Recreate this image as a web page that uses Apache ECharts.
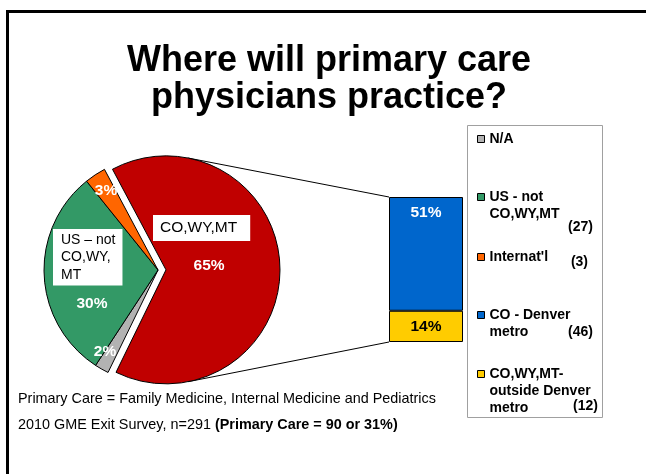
<!DOCTYPE html>
<html>
<head>
<meta charset="utf-8">
<script src="https://cdn.jsdelivr.net/npm/echarts@6/dist/echarts.min.js"></script>
<style>html,body{margin:0;padding:0;background:#fff}#c{width:646px;height:474px}</style>
</head>
<body>
<div id="c"></div>
<script>
// ---------------- data ----------------
const titleLines = ['Where will primary care', 'physicians practice?'];
const pieNames = ['CO,WY,MT', 'N/A', 'US - not CO,WY,MT', "Internat'l"];
const pieValues = [65, 2, 30, 3];
const pieLabels = ['65%', '2%', '30%', '3%'];
const pieBoxText = [['CO,WY,MT'], null, ['US \u2013 not', 'CO,WY,', 'MT'], null];
const barCategories = ['CO,WY,MT'];
const barSeriesNames = ['CO,WY,MT-outside Denver metro', 'CO - Denver metro'];
const barValues = [[14], [51]];
const barLabels = ['14%', '51%'];
const legendNames = ['N/A', 'US - not CO,WY,MT', "Internat'l", 'CO - Denver metro', 'CO,WY,MT-outside Denver metro'];
const legendLines = [['N/A'], ['US - not', 'CO,WY,MT'], ["Internat'l"], ['CO - Denver', 'metro'], ['CO,WY,MT-', 'outside Denver', 'metro']];
const legendCounts = [null, '(27)', '(3)', '(46)', '(12)'];
const footnote1 = 'Primary Care = Family Medicine, Internal Medicine and Pediatrics';
const footnote2a = '2010 GME Exit Survey, n=291 ';
const footnote2b = '(Primary Care = 90 or 31%)';

// ---------------- style / layout ----------------
const FONT = '"Liberation Sans", Arial, sans-serif';
const pieColors = ['#c00000', '#b2b2b2', '#339966', '#ff6600'];
const barColors = ['#ffcc00', '#0066cc'];
const SEL_OFFSET = 8;
const PIE_CENTER = [158, 270];
const PIE_R = 114;
// label anchor offsets relative to the pie centre
const pctLabelPos = [null, [-53, 82], [-66, 34], [-52, -79]];
const boxLabelPos = [[-5, -55], null, [-105, -41], null];
const legendFirstLineY = [139, 197, 257, 315, 374];
const LEG_LH = 17;
const countPos = [null, [593, 227], [588, 262], [593, 332], [598, 406]];

const barTotal = barValues.reduce((s, v) => s + v[0], 0);

const pieCommon = {
  type: 'pie', center: PIE_CENTER, radius: PIE_R, startAngle: 118, clockwise: true,
  avoidLabelOverlap: false, emphasis: {scale: false}, labelLine: {show: false}
};

function boxLabel(i) {
  if (!pieBoxText[i]) return {show: false};
  if (i === 0) {
    return {
      show: true, formatter: '{b|' + pieBoxText[0][0] + '}\n{p|' + pieLabels[0] + '}',
      rich: {
        b: {backgroundColor: '#fff', color: '#000', fontWeight: 'normal', fontSize: 15.5, fontFamily: FONT, padding: [5, 13, 5, 7]},
        p: {color: '#fff', fontWeight: 'bold', fontSize: 15.5, fontFamily: FONT, align: 'center', padding: [17, 0, 0, 15]}
      }
    };
  }
  return {show: true, formatter: pieBoxText[i].join('\n'), backgroundColor: '#fff', fontSize: 14, lineHeight: 17.5, padding: [2, 7, 2, 8]};
}

const option = {
  backgroundColor: '#fff',
  animation: false,
  title: [
    {
      text: titleLines.join('\n'), left: 329, top: 43, textAlign: 'center', padding: 0,
      textStyle: {fontSize: 36, fontWeight: 'bold', color: '#000', lineHeight: 37, fontFamily: FONT}
    },
    {
      text: footnote1 + '\n' + footnote2a + '{b|' + footnote2b + '}', left: 18, top: 386, padding: 0,
      textStyle: {fontSize: 14.4, fontWeight: 'normal', color: '#000', lineHeight: 26, fontFamily: FONT,
        rich: {b: {fontSize: 14.4, fontWeight: 'bold', color: '#000', lineHeight: 26, fontFamily: FONT}}}
    }
  ],
  legend: legendNames.map((n, i) => {
    const m = legendLines[i].length;
    const nLines = 2 * m - 1;
    return {
      data: [n], left: 477, top: legendFirstLineY[i] - nLines * LEG_LH / 2, orient: 'vertical', padding: 0,
      itemWidth: 7, itemHeight: 7, icon: 'rect', selectedMode: false,
      itemStyle: {borderColor: '#000', borderWidth: 1},
      textStyle: {fontWeight: 'bold', fontSize: 14, lineHeight: LEG_LH, color: '#000', fontFamily: FONT},
      formatter: () => Array(m - 1).fill('').concat(legendLines[i]).join('\n')
    };
  }),
  grid: {left: 389, top: 197, width: 74, height: 145},
  xAxis: {type: 'category', data: barCategories, show: false},
  yAxis: {type: 'value', min: 0, max: barTotal, show: false},
  series: [
    Object.assign({}, pieCommon, {
      selectedMode: 'single', selectedOffset: SEL_OFFSET,
      itemStyle: {borderColor: '#000', borderWidth: 1},
      label: {show: true, position: 'center', color: '#fff', fontWeight: 'bold', fontSize: 15.5, fontFamily: FONT,
        formatter: (p) => pieLabels[p.dataIndex]},
      labelLayout: (p) => pctLabelPos[p.dataIndex] ? ({
        x: PIE_CENTER[0] + pctLabelPos[p.dataIndex][0], y: PIE_CENTER[1] + pctLabelPos[p.dataIndex][1],
        align: 'center', verticalAlign: 'middle'
      }) : {},
      data: pieNames.map((n, i) => ({
        name: n, value: pieValues[i], selected: i === 0,
        label: pctLabelPos[i] ? {show: true} : {show: false},
        itemStyle: {color: pieColors[i], borderColor: '#000', borderWidth: 1},
        select: {itemStyle: {color: pieColors[i], borderColor: '#000', borderWidth: 1}}
      }))
    })
  ].concat(barSeriesNames.map((n, i) => ({
    type: 'bar', name: n, stack: 'total', barWidth: '100%', data: barValues[i],
    itemStyle: {color: barColors[i], borderColor: '#000', borderWidth: 1},
    label: {show: true, position: i === 1 ? 'insideTop' : 'inside', distance: 8, formatter: barLabels[i],
      color: i === 1 ? '#fff' : '#000', fontWeight: 'bold', fontSize: 15.5, fontFamily: FONT}
  }))).concat([
    // transparent overlay pie carrying the boxed category labels
    Object.assign({}, pieCommon, {
      z: 5, silent: true, legendHoverLink: false,
      itemStyle: {color: 'rgba(0,0,0,0)', borderWidth: 0},
      label: {show: true, position: 'center', color: '#000', fontWeight: 'normal', fontFamily: FONT},
      labelLayout: (p) => boxLabelPos[p.dataIndex] ? ({
        x: PIE_CENTER[0] + boxLabelPos[p.dataIndex][0], y: PIE_CENTER[1] + boxLabelPos[p.dataIndex][1],
        align: 'left', verticalAlign: 'top'
      }) : {},
      data: pieNames.map((n, i) => ({name: n, value: pieValues[i], label: boxLabel(i)}))
    })
  ])
};

const chart = echarts.init(document.getElementById('c'), null, {renderer: 'canvas'});
chart.setOption(option);

// connector lines (tangents from bar corners to the exploded slice's circle)
const model = chart.getModel();
const L = model.getSeriesByIndex(0).getData().getItemLayout(0);
const mid = (L.startAngle + L.endAngle) / 2;
const ccx = L.cx + SEL_OFFSET * Math.cos(mid), ccy = L.cy + SEL_OFFSET * Math.sin(mid), rr = L.r;
const topLay = model.getSeriesByIndex(2).getData().getItemLayout(0);
const botLay = model.getSeriesByIndex(1).getData().getItemLayout(0);
const bx = Math.min(topLay.x, topLay.x + topLay.width);
const byTop = Math.min(topLay.y, topLay.y + topLay.height);
const byBot = Math.max(botLay.y, botLay.y + botLay.height);
function tangent(px, py, sign) {
  const dx = px - ccx, dy = py - ccy, d = Math.hypot(dx, dy);
  const t = Math.atan2(dy, dx) + sign * Math.acos(rr / d);
  return [ccx + rr * Math.cos(t), ccy + rr * Math.sin(t)];
}
const t1 = tangent(bx, byTop, -1), t2 = tangent(bx, byBot, 1);

const graphics = [
  {type: 'rect', id: 'frame', silent: true, shape: {x: 7.5, y: 11.5, width: 700, height: 600}, style: {fill: 'none', stroke: '#000', lineWidth: 3}},
  {type: 'rect', id: 'legbox', silent: true, shape: {x: 467.5, y: 125.5, width: 135, height: 292}, style: {fill: 'none', stroke: '#a0a0a0', lineWidth: 1}},
  {type: 'line', id: 'conn1', silent: true, z: -1, shape: {x1: t1[0], y1: t1[1], x2: bx, y2: byTop}, style: {stroke: '#000', lineWidth: 1}},
  {type: 'line', id: 'conn2', silent: true, z: -1, shape: {x1: t2[0], y1: t2[1], x2: bx, y2: byBot}, style: {stroke: '#000', lineWidth: 1}}
];
legendCounts.forEach((c, i) => {
  if (!c) return;
  graphics.push({type: 'text', id: 'cnt' + i, silent: true, x: countPos[i][0], y: countPos[i][1],
    style: {text: c, fill: '#000', font: 'bold 14px ' + FONT, textAlign: 'right', textVerticalAlign: 'middle'}});
});
chart.setOption({graphic: graphics});
</script>
</body>
</html>
